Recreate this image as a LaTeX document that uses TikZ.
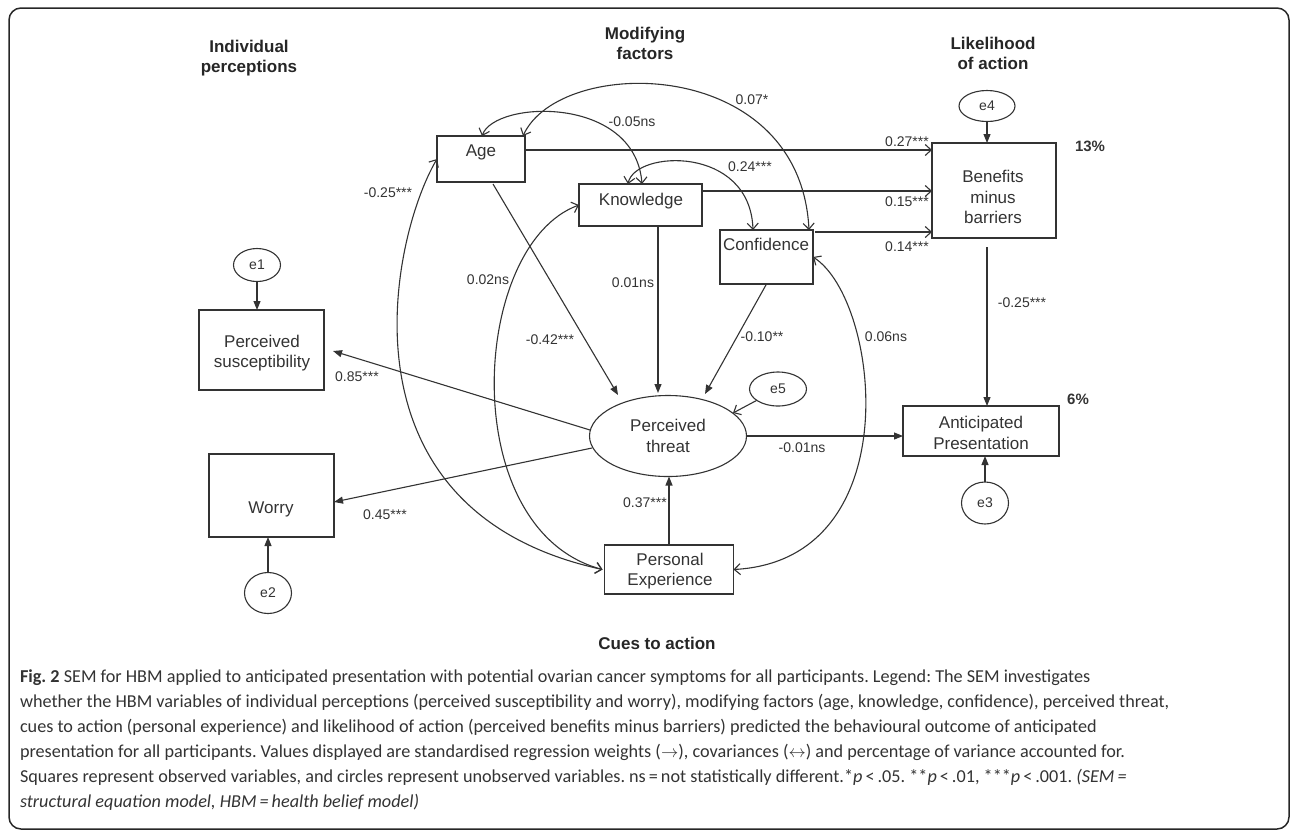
\documentclass[tikz,border=0pt]{standalone}
\usepackage{fontspec}
\setmainfont{Liberation Sans}
\newfontfamily\capfont{Carlito}
\usetikzlibrary{arrows.meta,calc,shapes.geometric}
\definecolor{ink}{HTML}{333333}
\frenchspacing
\begin{document}
\begin{tikzpicture}[x=1pt,y=-1pt,
  every node/.style={inner sep=0pt, outer sep=0pt, text=ink},
  ln/.style={draw=ink, line width=1.1pt},
  box/.style={ln, rectangle},
  oval/.style={ln, ellipse},
  ftip/.style={-{Triangle[length=9pt,width=7pt]}},
  otip/.style={-{Straight Barb[length=6pt,width=11pt]}},
  cov/.style={{Straight Barb[length=6pt,width=11pt]}-{Straight Barb[length=6pt,width=11pt]}},
  txt/.style={font=\fontsize{17}{20.5}\selectfont, align=center},
  val/.style={font=\fontsize{14}{16}\selectfont},
  pct/.style={font=\bfseries\fontsize{15}{17}\selectfont},
  hdr/.style={font=\bfseries\fontsize{17}{20}\selectfont, align=center, text=black!85},
  capline/.style={anchor=base west, font=\capfont\fontsize{18.2}{25}\selectfont},
]
\useasboundingbox (0,0) rectangle (1292,831);
\draw[line width=1.5pt, draw=black!85, rounded corners=12pt] (9,8) rectangle (1289,829);

% headers
\node[hdr] (h1) at (249,58) {Individual\\perceptions};
\node[hdr] (h2) at (645,43) {Modifying\\factors};
\node[hdr] (h3) at (993,53) {Likelihood\\of action};
\node[hdr] (h4) at (657,643) {Cues to action};

% boxes
\node[box, minimum width=88pt, minimum height=46pt] (age) at (481,159) {};
\node[txt] (agel) at (481,152) {Age};
\node[box, minimum width=123pt, minimum height=42pt] (know) at (640.5,205) {};
\node[txt] (knowl) at (641,201) {Knowledge};
\node[box, minimum width=93pt, minimum height=54pt] (conf) at (766.5,257) {};
\node[txt] (confl) at (766,244) {Confidence};
\node[box, minimum width=124pt, minimum height=95pt] (ben) at (994,190.5) {};
\node[txt] (benl) at (993,197) {Benefits\\minus\\barriers};
\node[box, minimum width=125pt, minimum height=80pt] (psus) at (261.5,350) {};
\node[txt] (psusl) at (262,353) {Perceived\\susceptibility};
\node[box, minimum width=125pt, minimum height=83pt] (worry) at (271.5,495.5) {};
\node[txt] (worryl) at (271,509) {Worry};
\node[box, minimum width=129pt, minimum height=49pt] (pe) at (669,569.5) {};
\node[txt] (pel) at (670,571) {Personal\\Experience};
\node[box, minimum width=156pt, minimum height=50pt] (ap) at (981,431) {};
\node[txt] (apl) at (981,433) {Anticipated\\Presentation};

% ellipses
\node[oval, minimum width=157pt, minimum height=81pt, txt] (pt) at (668,436) {Perceived\\threat};
\node[oval, minimum width=47pt, minimum height=33pt, val] (e1) at (257,265) {e1};
\node[oval, minimum width=47pt, minimum height=41pt, val] (e2) at (268,593) {e2};
\node[oval, minimum width=47pt, minimum height=42pt, val] (e3) at (985,503) {e3};
\node[oval, minimum width=56pt, minimum height=31pt, val] (e4) at (987,106) {e4};
\node[oval, minimum width=57pt, minimum height=34pt, val] (e5) at (778,389) {e5};

% error arrows
\draw[ln,ftip] (e1) -- (e1 |- psus.north);
\draw[ln,ftip] (e2) -- (e2 |- worry.south);
\draw[ln,ftip] (e4) -- (e4 |- ben.north);
\draw[ln,ftip] (e3) -- (e3 |- ap.south);
\draw[ln,otip] (e5) -- ($(pt.center)+(65,-23)$);

% regressions
\draw[ln,ftip] ($(pt.center)+(-78,-6)$) -- ($(psus.east)+(9,1)$);
\draw[ln,ftip] ($(pt.center)+(-76,12)$) -- ($(worry.east)+(0,6.5)$);
\draw[ln,ftip] (pt.east) -- (pt.east -| ap.west);
\draw[ln,ftip] (pe.north) -- (pe.north |- pt.south);
\draw[ln,ftip] ($(age.south)+(12,2)$) -- ($(pt.center)+(-50,-41)$);
\draw[ln,ftip] ($(know.south)+(17.5,0)$) -- ($(pt.center)+(-10,-43)$);
\draw[ln,ftip] (conf.south) -- ($(pt.center)+(37,-42)$);
\coordinate (bs) at ($(ben.south)+(-7,9)$);
\draw[ln,ftip] (bs) -- (bs |- ap.north);
\coordinate (a1) at ($(age.east)+(0,-9)$);
\coordinate (k1) at ($(know.east)+(0,-14)$);
\coordinate (c1) at ($(conf.east)+(2,-25)$);
\draw[ln,otip] (a1) -- (a1 -| ben.west);
\draw[ln,otip] (k1) -- (k1 -| ben.west);
\draw[ln,otip] (c1) -- (c1 -| ben.west);

% covariances
\draw[ln,cov] ($(age.north)+(1,0)$) .. controls (495,100) and (635,95) .. ($(know.north)+(1.5,0)$);
\draw[ln,cov] ($(age.north)+(42,0)$) .. controls (560,55) and (800,55) .. ($(conf.north)+(42.5,0)$);
\draw[ln,cov] ($(know.north)+(-12.5,0)$) .. controls (635,150) and (750,145) .. ($(conf.north)+(-13.5,0)$);
\draw[ln,cov] (age.west) .. controls (392,235) and (330,510) .. ($(pe.west)+(-2,0)$);
\draw[ln,cov] (know.west) .. controls (470,245) and (455,530) .. ($(pe.west)+(-2,0)$);
\draw[ln,cov] (conf.east) .. controls (880,300) and (910,560) .. (pe.east);

% values
\node[val] (v1) at (632,122) {-0.05ns};
\node[val] (v2) at (752,100) {0.07*};
\node[val] (v3) at (750,167) {0.24***};
\node[val] (v4) at (907,142) {0.27***};
\node[val] (v5) at (907,202) {0.15***};
\node[val] (v6) at (907,247) {0.14***};
\node[val] (v7) at (388,193) {-0.25***};
\node[val] (v8) at (488,280) {0.02ns};
\node[val] (v9) at (550,340) {-0.42***};
\node[val] (v10) at (633,283) {0.01ns};
\node[val] (v11) at (762,337) {-0.10**};
\node[val] (v12) at (886,337) {0.06ns};
\node[val] (v13) at (1022,303) {-0.25***};
\node[val] (v14) at (357,377) {0.85***};
\node[val] (v15) at (385,515) {0.45***};
\node[val] (v16) at (802,448) {-0.01ns};
\node[val] (v17) at (645,503) {0.37***};
\node[pct] (p1) at (1090,146) {13\%};
\node[pct] (p2) at (1078,399) {6\%};

% caption
\node[capline] (cap1) at (20,682) {\textbf{Fig. 2} SEM for HBM applied to anticipated presentation with potential ovarian cancer symptoms for all participants. Legend: The SEM investigates};
\node[capline] (cap2) at (20,707) {whether the HBM variables of individual perceptions (perceived susceptibility and worry), modifying factors (age, knowledge, confidence), perceived threat,};
\node[capline] (cap3) at (20,732) {cues to action (personal experience) and likelihood of action (perceived benefits minus barriers) predicted the behavioural outcome of anticipated};
\node[capline] (cap4) at (20,757) {presentation for all participants. Values displayed are standardised regression weights ($\rightarrow$), covariances ($\leftrightarrow$) and percentage of variance accounted for.};
\node[capline] (cap5) at (20,782) {Squares represent observed variables, and circles represent unobserved variables. ns\,=\,not statistically different.*\textit{p}\,<\,.05. **\textit{p}\,<\,.01, ***\textit{p}\,<\,.001. \textit{(SEM\,=}};
\node[capline] (cap6) at (20,807) {\textit{structural equation model, HBM\,=\,health belief model)}};
\end{tikzpicture}
\end{document}
